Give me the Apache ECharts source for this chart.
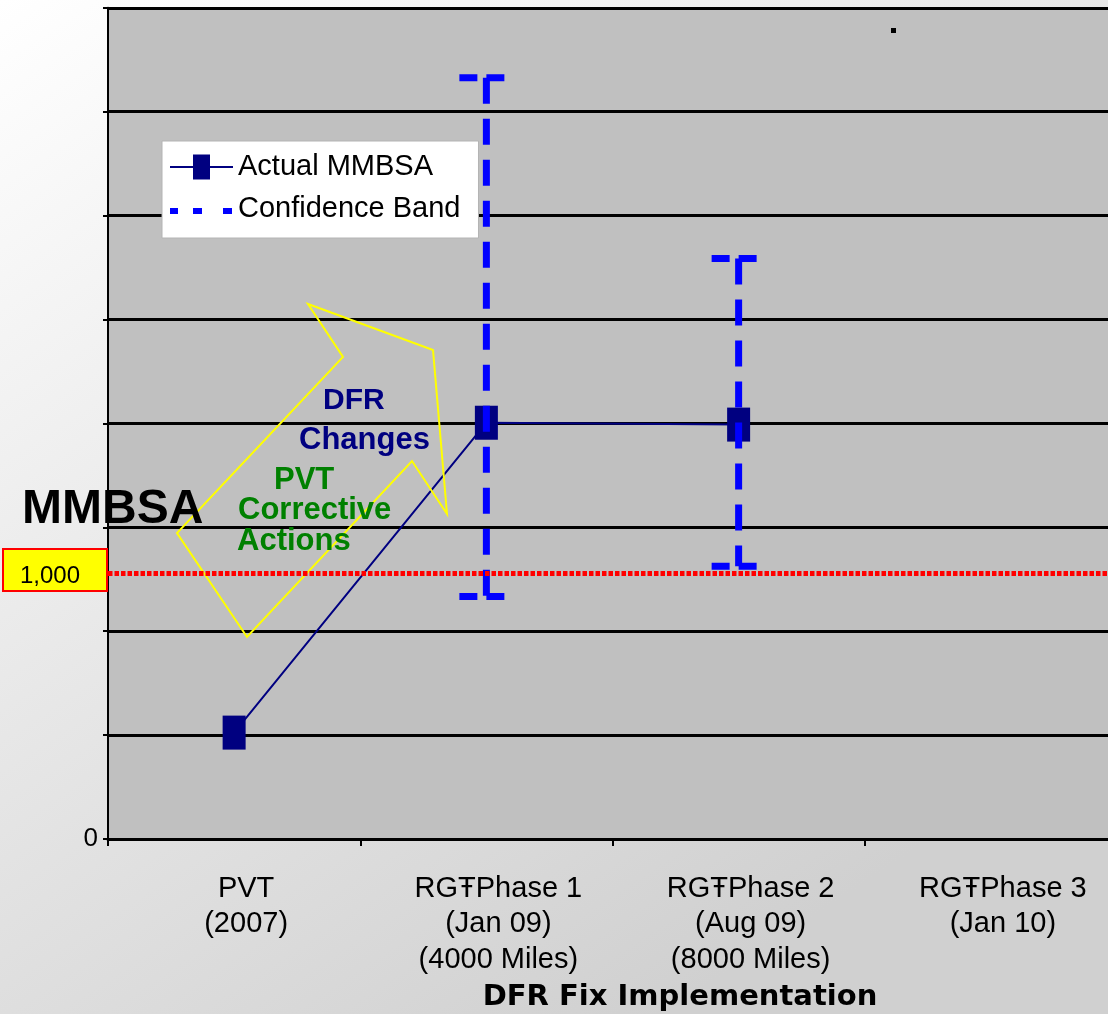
<!DOCTYPE html>
<html>
<head>
<meta charset="utf-8">
<title>MMBSA by DFR Fix Implementation</title>
<script src="https://cdn.jsdelivr.net/npm/echarts@6/dist/echarts.min.js"></script>
<style>
  html, body { margin: 0; padding: 0; }
  #chart { width: 1108px; height: 1014px; }
</style>
</head>
<body>
<div id="chart"></div>
<script>
// Fix phases along the x axis
const categories = [
  'PVT\n(2007)',
  'RGŦPhase 1\n(Jan 09)\n(4000 Miles)',
  'RGŦPhase 2\n(Aug 09)\n(8000 Miles)',
  'RGŦPhase 3\n(Jan 10)'
];

// Measured MMBSA per phase (no result yet for Phase 3)
const actualMMBSA = [400, 1565, 1558, null];

// Confidence band limits per phase
const bandLow = [null, 912, 1025, null];
const bandHigh = [null, 2862, 2182, null];

// Requirement line
const requirement = 1000;

// Value axis scale
const yMin = 0;
const yStep = 390.625;
const yMax = 3125;

const bandData = categories
  .map((c, i) => [i, bandLow[i], bandHigh[i]])
  .filter(d => d[1] != null && d[2] != null);

const chart = echarts.init(document.getElementById('chart'), null, { renderer: 'canvas' });

const FONT = 'Liberation Sans, Arial, Helvetica, sans-serif';

// Legend glyphs: line with tall square marker, and a square-dot line
const iconActual = 'path://M0,11.5h23v2h-23z M23,0h17v25h-17z M40,11.5h23v2h-23z';
const iconBand = 'path://M0,0h0.01v0.01h-0.01z M0,12h8v6h-8z M23,12h9v6h-9z M53,12h9v6h-9z M62.99,24.99h0.01v0.01h-0.01z';

function renderBand(params, api) {
  const idx = api.value(0);
  const lo = api.coord([idx, api.value(1)]);
  const hi = api.coord([idx, api.value(2)]);
  const x = lo[0];
  const capStyle = { stroke: '#0000ff', lineWidth: 7, lineDash: [18, 9], fill: null };
  const stemStyle = { stroke: '#0000ff', lineWidth: 7, lineDash: [26, 15], fill: null };
  return {
    type: 'group',
    children: [
      { type: 'line', shape: { x1: x - 27, y1: hi[1], x2: x + 20, y2: hi[1] }, style: capStyle },
      { type: 'line', shape: { x1: x, y1: hi[1], x2: x, y2: lo[1] }, style: stemStyle },
      { type: 'line', shape: { x1: x - 27, y1: lo[1], x2: x + 20, y2: lo[1] }, style: capStyle }
    ]
  };
}

const option = {
  animation: false,
  backgroundColor: new echarts.graphic.LinearGradient(0, 0, 0.6, 1, [
    { offset: 0, color: '#ffffff' },
    { offset: 1, color: '#d0d0d0' }
  ]),
  textStyle: { fontFamily: FONT },
  grid: {
    left: 108,
    right: -9,
    top: 7.8,
    bottom: 175,
    show: true,
    backgroundColor: '#c0c0c0',
    borderColor: '#808080',
    borderWidth: 1,
    containLabel: false,
    outerBoundsMode: 'none'
  },
  legend: {
    orient: 'vertical',
    left: 162,
    top: 141,
    padding: [11.5, 18, 15, 8],
    itemGap: 12.5,
    itemWidth: 63,
    itemHeight: 25,
    itemTextGap: 5,
    backgroundColor: '#ffffff',
    borderColor: '#b4b4b4',
    borderWidth: 1,
    selectedMode: false,
    itemStyle: { borderWidth: 0 },
    textStyle: { fontSize: 29, color: '#000000', fontFamily: FONT },
    data: [
      { name: 'Actual MMBSA', icon: iconActual },
      { name: 'Confidence Band', icon: iconBand }
    ]
  },
  xAxis: {
    type: 'category',
    data: categories,
    boundaryGap: true,
    axisLine: { show: true, lineStyle: { color: '#000000', width: 3 } },
    axisTick: { show: true, inside: false, length: 7, interval: 0, lineStyle: { color: '#000000', width: 2 } },
    axisLabel: {
      interval: 0,
      margin: 32,
      fontSize: 29,
      lineHeight: 35.5,
      color: '#000000',
      fontFamily: FONT,
      padding: [0, 0, 0, 24]
    },
    splitLine: { show: false }
  },
  yAxis: {
    type: 'value',
    min: yMin,
    max: yMax,
    interval: yStep,
    axisLine: { show: true, lineStyle: { color: '#000000', width: 2 } },
    axisTick: { show: true, inside: false, length: 5, lineStyle: { color: '#000000', width: 2 } },
    axisLabel: {
      margin: 10,
      fontSize: 26,
      color: '#000000',
      fontFamily: FONT,
      padding: [10, 0, 0, 0],
      formatter: v => (v === 0 ? '0' : '')
    },
    splitLine: { show: true, lineStyle: { color: '#000000', width: 3 } }
  },
  series: [
    {
      name: 'Actual MMBSA',
      type: 'line',
      data: actualMMBSA,
      z: 3,
      symbol: 'rect',
      symbolSize: [23, 34],
      showAllSymbol: true,
      connectNulls: false,
      lineStyle: { color: '#000080', width: 2 },
      itemStyle: { color: '#000080', borderWidth: 0 },
      emphasis: { disabled: true },
      markLine: {
        silent: true,
        symbol: ['none', 'none'],
        z: 6,
        lineStyle: { color: '#ff0000', width: 5, type: [4.5, 2] },
        label: {
          show: true,
          position: 'start',
          distance: 2,
          offset: [0, -3],
          formatter: p => '{box|' + p.value.toLocaleString('en-US') + '}',
          rich: {
            box: {
              color: '#000000',
              fontSize: 24,
              fontFamily: FONT,
              lineHeight: 24,
              width: 60,
              align: 'left',
              backgroundColor: '#ffff00',
              borderColor: '#ff0000',
              borderWidth: 2,
              padding: [14, 26, 2, 16]
            }
          }
        },
        emphasis: { disabled: true },
        data: [{ yAxis: requirement }]
      }
    },
    {
      name: 'Confidence Band',
      type: 'custom',
      data: bandData,
      z: 4,
      encode: { x: 0, y: [1, 2] },
      itemStyle: { color: '#0000ff' },
      renderItem: renderBand,
      emphasis: { disabled: true }
    }
  ],
  graphic: [
    // Callout arrow outline
    {
      type: 'polygon',
      z: 5,
      silent: true,
      shape: {
        points: [[308, 304], [433, 350], [447, 514], [412, 461], [247, 637], [177, 533], [343, 357]]
      },
      style: { fill: null, stroke: '#ffff00', lineWidth: 2 }
    },
    {
      type: 'text', z: 10, silent: true,
      style: { text: 'MMBSA', x: 22, y: 510, textAlign: 'left', textVerticalAlign: 'middle',
        font: 'bold 48px ' + FONT, fill: '#000000' }
    },
    {
      type: 'text', z: 10, silent: true,
      style: { text: 'DFR', x: 323, y: 401, textAlign: 'left', textVerticalAlign: 'middle',
        font: 'bold 30px ' + FONT, fill: '#000080' }
    },
    {
      type: 'text', z: 10, silent: true,
      style: { text: 'Changes', x: 299, y: 440, textAlign: 'left', textVerticalAlign: 'middle',
        font: 'bold 31px ' + FONT, fill: '#000080' }
    },
    {
      type: 'text', z: 10, silent: true,
      style: { text: 'PVT', x: 274, y: 480, textAlign: 'left', textVerticalAlign: 'middle',
        font: 'bold 31px ' + FONT, fill: '#008000' }
    },
    {
      type: 'text', z: 10, silent: true,
      style: { text: 'Corrective', x: 238, y: 510, textAlign: 'left', textVerticalAlign: 'middle',
        font: 'bold 31px ' + FONT, fill: '#008000' }
    },
    {
      type: 'text', z: 10, silent: true,
      style: { text: 'Actions', x: 237, y: 541, textAlign: 'left', textVerticalAlign: 'middle',
        font: 'bold 31px ' + FONT, fill: '#008000' }
    },
    {
      type: 'text', z: 10, silent: true,
      style: { text: 'DFR Fix Implementation', x: 680, y: 997, textAlign: 'center', textVerticalAlign: 'middle',
        font: 'bold 29px DejaVu Sans, ' + FONT, fill: '#000000' }
    },
    {
      type: 'rect', z: 10, silent: true,
      shape: { x: 891, y: 28, width: 5, height: 5 },
      style: { fill: '#000000' }
    }
  ]
};

chart.setOption(option);
</script>
</body>
</html>
